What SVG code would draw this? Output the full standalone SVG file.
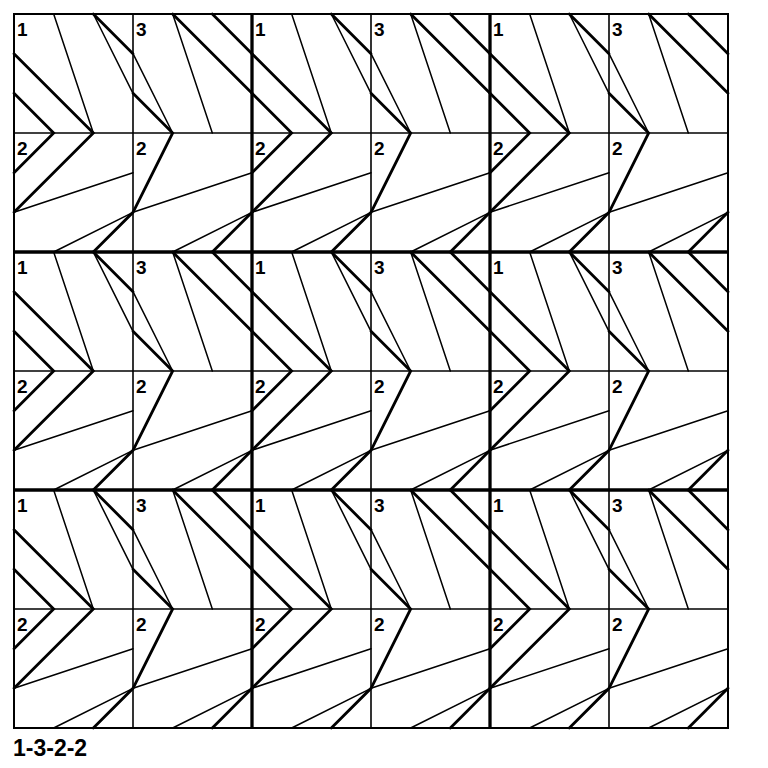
<svg xmlns="http://www.w3.org/2000/svg" xmlns:xlink="http://www.w3.org/1999/xlink" width="768" height="768" viewBox="0 0 768 768">
<style>
.thk{stroke:#000;stroke-width:2.8;fill:none;stroke-linejoin:miter;stroke-linecap:round}
.thn{stroke:#000;stroke-width:1.5;fill:none;stroke-linecap:round}
.tile{stroke:#000;stroke-width:1.6;fill:none}
.blk{stroke:#000;stroke-width:3.3;fill:none}
.lbl{font-family:"Liberation Sans",Arial,sans-serif;font-weight:bold;font-size:19px;fill:#000}
.cap{font-family:"Liberation Sans",Arial,sans-serif;font-weight:bold;font-size:23px;fill:#000}
</style>
<defs>
<g id="blkpat">
<polyline class="thk" points="0,39.67 79.33,119 0,198.33"/>
<polyline class="thk" points="0,79.33 39.67,119 0,158.67"/>
<line class="thk" x1="79.33" y1="0" x2="119" y2="39.67"/>
<polyline class="thk" points="119,79.33 158.67,119 119,198.33 79.33,238"/>
<line class="thk" x1="158.67" y1="0" x2="238" y2="79.33"/>
<line class="thk" x1="198.33" y1="0" x2="238" y2="39.67"/>
<line class="thk" x1="238" y1="198.33" x2="198.33" y2="238"/>
<line class="thn" x1="39.67" y1="0" x2="79.33" y2="119"/>
<line class="thn" x1="79.33" y1="0" x2="119" y2="79.33"/>
<line class="thn" x1="119" y1="39.67" x2="158.67" y2="119"/>
<line class="thn" x1="158.67" y1="0" x2="198.33" y2="119"/>
<line class="thn" x1="0" y1="198.33" x2="119" y2="158.67"/>
<line class="thn" x1="119" y1="198.33" x2="39.67" y2="238"/>
<line class="thn" x1="119" y1="198.33" x2="238" y2="158.67"/>
<line class="thn" x1="238" y1="198.33" x2="158.67" y2="238"/>
</g>
</defs>
<rect width="768" height="768" fill="#fff"/>
<g id="pattern">
<use xlink:href="#blkpat" href="#blkpat" x="14" y="14"/>
<use xlink:href="#blkpat" href="#blkpat" x="252" y="14"/>
<use xlink:href="#blkpat" href="#blkpat" x="490" y="14"/>
<use xlink:href="#blkpat" href="#blkpat" x="14" y="252"/>
<use xlink:href="#blkpat" href="#blkpat" x="252" y="252"/>
<use xlink:href="#blkpat" href="#blkpat" x="490" y="252"/>
<use xlink:href="#blkpat" href="#blkpat" x="14" y="490"/>
<use xlink:href="#blkpat" href="#blkpat" x="252" y="490"/>
<use xlink:href="#blkpat" href="#blkpat" x="490" y="490"/>
</g>
<g id="grid">
<line class="tile" x1="133" y1="14" x2="133" y2="728"/>
<line class="tile" x1="371" y1="14" x2="371" y2="728"/>
<line class="tile" x1="609" y1="14" x2="609" y2="728"/>
<line class="tile" x1="14" y1="133" x2="728" y2="133"/>
<line class="tile" x1="14" y1="371" x2="728" y2="371"/>
<line class="tile" x1="14" y1="609" x2="728" y2="609"/>
<line class="blk" x1="252" y1="14" x2="252" y2="728"/>
<line class="blk" x1="490" y1="14" x2="490" y2="728"/>
<line class="blk" x1="14" y1="252" x2="728" y2="252"/>
<line class="blk" x1="14" y1="490" x2="728" y2="490"/>
<rect x="14" y="14" width="714" height="714" fill="none" stroke="#000" stroke-width="2"/>
</g>
<g id="labels">
<text class="lbl" x="17" y="35.5">1</text><text class="lbl" x="136" y="35.5">3</text><text class="lbl" x="17" y="154.5">2</text><text class="lbl" x="136" y="154.5">2</text>
<text class="lbl" x="255" y="35.5">1</text><text class="lbl" x="374" y="35.5">3</text><text class="lbl" x="255" y="154.5">2</text><text class="lbl" x="374" y="154.5">2</text>
<text class="lbl" x="493" y="35.5">1</text><text class="lbl" x="612" y="35.5">3</text><text class="lbl" x="493" y="154.5">2</text><text class="lbl" x="612" y="154.5">2</text>
<text class="lbl" x="17" y="273.5">1</text><text class="lbl" x="136" y="273.5">3</text><text class="lbl" x="17" y="392.5">2</text><text class="lbl" x="136" y="392.5">2</text>
<text class="lbl" x="255" y="273.5">1</text><text class="lbl" x="374" y="273.5">3</text><text class="lbl" x="255" y="392.5">2</text><text class="lbl" x="374" y="392.5">2</text>
<text class="lbl" x="493" y="273.5">1</text><text class="lbl" x="612" y="273.5">3</text><text class="lbl" x="493" y="392.5">2</text><text class="lbl" x="612" y="392.5">2</text>
<text class="lbl" x="17" y="511.5">1</text><text class="lbl" x="136" y="511.5">3</text><text class="lbl" x="17" y="630.5">2</text><text class="lbl" x="136" y="630.5">2</text>
<text class="lbl" x="255" y="511.5">1</text><text class="lbl" x="374" y="511.5">3</text><text class="lbl" x="255" y="630.5">2</text><text class="lbl" x="374" y="630.5">2</text>
<text class="lbl" x="493" y="511.5">1</text><text class="lbl" x="612" y="511.5">3</text><text class="lbl" x="493" y="630.5">2</text><text class="lbl" x="612" y="630.5">2</text>
</g>
<text class="cap" x="13" y="756">1-3-2-2</text>
</svg>
